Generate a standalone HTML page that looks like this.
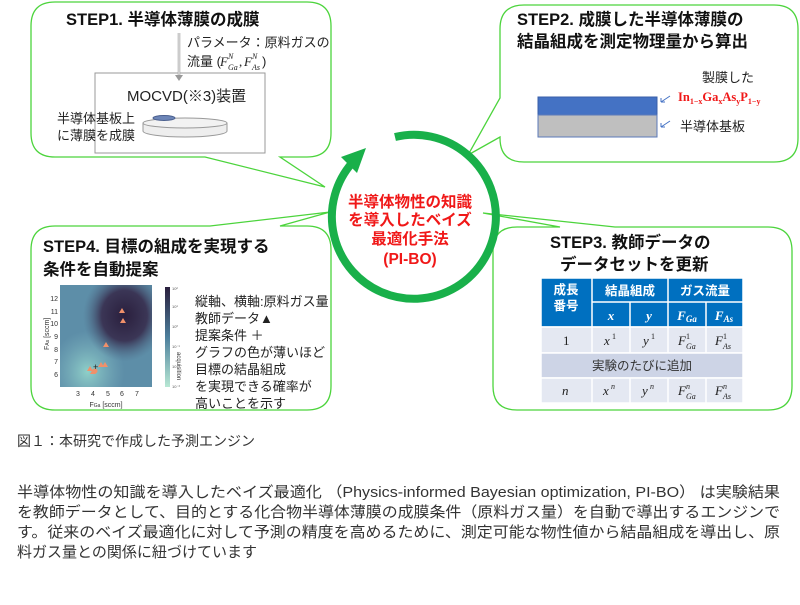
<!DOCTYPE html>
<html><head><meta charset="utf-8"><style>
body{margin:0;background:#fff;width:800px;height:600px;overflow:hidden;font-family:"Liberation Sans","Noto Sans CJK JP",sans-serif}
svg text{font-family:"Liberation Sans","Noto Sans CJK JP",sans-serif}
svg text.m, svg .m text{font-family:"Liberation Serif","Noto Serif CJK SC",serif;font-style:italic}
.t{font-weight:bold;font-size:16.5px;fill:#111}
.s{font-size:13px;fill:#222}
</style></head><body>
<svg width="800" height="600" viewBox="0 0 800 600">
<defs>
<radialGradient id="dk" cx="0.7" cy="0.3" r="0.45"><stop offset="0" stop-color="#2a1f3d"/><stop offset="0.55" stop-color="#3b3656"/><stop offset="1" stop-color="#4d6b88" stop-opacity="0"/></radialGradient>
<radialGradient id="lt" cx="0.3" cy="0.85" r="0.4"><stop offset="0" stop-color="#8fd0c8"/><stop offset="1" stop-color="#7fb5c0" stop-opacity="0"/></radialGradient>
<linearGradient id="cb" x1="0" y1="0" x2="0" y2="1"><stop offset="0" stop-color="#2a1f3d"/><stop offset="0.5" stop-color="#4d7f9c"/><stop offset="1" stop-color="#b8e8d4"/></linearGradient>
</defs>
<g fill="#fff" stroke="#4cd43c" stroke-width="1.3">
<path d="M55 2 H307 Q331 2 331 26 V133 Q331 157 307 157 H280 L325 187 L205 157 H55 Q31 157 31 133 V26 Q31 2 55 2 Z"/>
<path d="M524 5 H774 Q798 5 798 29 V138 Q798 162 774 162 H524 Q500 162 500 138 V137 L468 155 L500 98 V29 Q500 5 524 5 Z"/>
<path d="M55 226 H210 L330 212 L280 226 H307 Q331 226 331 250 V386 Q331 410 307 410 H55 Q31 410 31 386 V250 Q31 226 55 226 Z"/>
<path d="M517 227 H560 L483 213 L615 227 H768 Q792 227 792 251 V386 Q792 410 768 410 H517 Q493 410 493 386 V251 Q493 227 517 227 Z"/>
</g>
<path d="M395 137 A82 82 0 1 1 352 163" fill="none" stroke="#19b04a" stroke-width="8"/>
<polygon points="366,148 341,157 357,173" fill="#19b04a"/>
<g fill="#f01818" font-weight="bold" font-size="15.5" text-anchor="middle">
<text x="410" y="207">半導体物性の知識</text>
<text x="410" y="225">を導入したベイズ</text>
<text x="410" y="244">最適化手法</text>
<text x="410" y="264">(PI-BO)</text>
</g>
<text class="t" x="66" y="25">STEP1. 半導体薄膜の成膜</text>
<rect x="95" y="73" width="170" height="80" fill="#fff" stroke="#999"/>
<line x1="179" y1="33" x2="179" y2="79" stroke="#999" stroke-width="2.5"/>
<line x1="179" y1="33" x2="179" y2="79" stroke="#fff" stroke-width="1"/>
<polygon points="175,75 183,75 179,81" fill="#999"/>
<text class="s" x="187" y="47">パラメータ：原料ガスの</text>
<text class="s" x="187" y="66">流量 (</text>
<g class="m" fill="#222"><text x="220" y="66" font-size="13">F</text><text x="228" y="59" font-size="8">N</text><text x="228" y="70" font-size="8">Ga</text><text x="239" y="66" font-size="13" style="font-style:normal">,</text><text x="244" y="66" font-size="13">F</text><text x="252" y="59" font-size="8">N</text><text x="252" y="70" font-size="8">As</text></g>
<text class="s" x="262" y="66">)</text>
<text x="127" y="101" font-size="15" fill="#222">MOCVD(※3)装置</text>
<path d="M143 123 V131 A42 6 0 0 0 227 131 V123" fill="#eee" stroke="#999"/>
<ellipse cx="185" cy="123" rx="42" ry="5" fill="#f2f2f2" stroke="#999"/>
<ellipse cx="164" cy="118" rx="11" ry="2.5" fill="#6d86b8" stroke="#4a5f8e"/>
<text class="s" x="57" y="123">半導体基板上</text>
<text class="s" x="57" y="140">に薄膜を成膜</text>
<text class="t" x="517" y="25">STEP2. 成膜した半導体薄膜の</text>
<text class="t" x="517" y="47">結晶組成を測定物理量から算出</text>
<rect x="538" y="97" width="119" height="18" fill="#4472c4" stroke="#3a5fa8"/>
<rect x="538" y="115" width="119" height="22" fill="#bfbfbf" stroke="#5b7ab8"/>
<text class="s" x="702" y="82">製膜した</text>
<text x="678" y="101" font-size="12.5" font-weight="bold" fill="#f01818" style="font-family:'Liberation Serif',serif">In<tspan font-size="8" dy="3">1−x</tspan><tspan dy="-3">Ga</tspan><tspan font-size="8" dy="3">x</tspan><tspan dy="-3">As</tspan><tspan font-size="8" dy="3">y</tspan><tspan dy="-3">P</tspan><tspan font-size="8" dy="3">1−y</tspan></text>
<text class="s" x="680" y="131">半導体基板</text>
<g stroke="#4472c4" stroke-width="1" fill="none"><path d="M670 96 L661 102 M661 102 h4 M661 102 v-4"/><path d="M670 121 L661 127 M661 127 h4 M661 127 v-4"/></g>
<text class="t" x="550" y="248">STEP3. 教師データの</text>
<text class="t" x="560" y="270">データセットを更新</text>
<g stroke="#fff" stroke-width="1.5">
<rect x="541" y="278" width="202" height="49" fill="#0070c0"/>
<rect x="541" y="327" width="202" height="26" fill="#e4e8f2"/>
<rect x="541" y="353" width="202" height="25" fill="#cdd4e6"/>
<rect x="541" y="378" width="202" height="25" fill="#e4e8f2"/>
<line x1="592" y1="278" x2="592" y2="353"/><line x1="668" y1="278" x2="668" y2="353"/>
<line x1="630" y1="302" x2="630" y2="353"/><line x1="706" y1="302" x2="706" y2="353"/>
<line x1="592" y1="302" x2="743" y2="302"/>
<line x1="592" y1="378" x2="592" y2="403"/><line x1="630" y1="378" x2="630" y2="403"/><line x1="668" y1="378" x2="668" y2="403"/><line x1="706" y1="378" x2="706" y2="403"/>
</g>
<g fill="#fff" font-weight="bold" font-size="12.5" text-anchor="middle">
<text x="566" y="294">成長</text><text x="566" y="310">番号</text>
<text x="630" y="295">結晶組成</text><text x="705" y="295">ガス流量</text>
</g>
<g class="m" font-size="13" text-anchor="middle" fill="#fff" font-weight="bold">
<text x="611" y="320">x</text><text x="649" y="320">y</text><text x="687" y="320">F<tspan font-size="9" dy="2">Ga</tspan></text><text x="724" y="320">F<tspan font-size="9" dy="2">As</tspan></text>
</g>
<g class="m" font-size="13" fill="#222">
<text x="563" y="345" style="font-style:normal">1</text>
<text x="604" y="345">x</text><text x="612" y="339" font-size="8" style="font-style:normal">1</text>
<text x="643" y="345">y</text><text x="651" y="339" font-size="8" style="font-style:normal">1</text>
<text x="678" y="345">F</text><text x="686" y="339" font-size="8" style="font-style:normal">1</text><text x="686" y="349" font-size="8">Ga</text>
<text x="715" y="345">F</text><text x="723" y="339" font-size="8" style="font-style:normal">1</text><text x="723" y="349" font-size="8">As</text>
<text x="562" y="395">n</text>
<text x="603" y="395">x</text><text x="611" y="389" font-size="8">n</text>
<text x="642" y="395">y</text><text x="650" y="389" font-size="8">n</text>
<text x="678" y="395">F</text><text x="686" y="389" font-size="8">n</text><text x="686" y="399" font-size="8">Ga</text>
<text x="715" y="395">F</text><text x="723" y="389" font-size="8">n</text><text x="723" y="399" font-size="8">As</text>
</g>
<text x="642" y="370" font-size="12.5" fill="#333" text-anchor="middle">実験のたびに追加</text>
<text class="t" x="43" y="252">STEP4. 目標の組成を実現する</text>
<text class="t" x="43" y="275">条件を自動提案</text>
<rect x="60" y="285" width="92" height="102" fill="#5d8ea8"/>
<rect x="60" y="285" width="92" height="102" fill="url(#lt)"/>
<rect x="60" y="285" width="92" height="102" fill="url(#dk)"/>
<rect x="165" y="287" width="5" height="100" fill="url(#cb)"/>
<g fill="#f0906a"><polygon points="122,308 125,313 119,313"/><polygon points="123,318 126,323 120,323"/><polygon points="106,342 109,347 103,347"/><polygon points="101,362 104,367 98,367"/><polygon points="105,362 108,367 102,367"/><polygon points="90,366 93,371 87,371"/><polygon points="93,369 96,374 90,374"/><circle cx="95" cy="371" r="2.5"/></g>
<text x="93" y="370" font-size="9" fill="#222">+</text>
<g font-size="7" fill="#333" text-anchor="end"><text x="58" y="301">12</text><text x="58" y="314">11</text><text x="58" y="326">10</text><text x="58" y="339">9</text><text x="58" y="352">8</text><text x="58" y="364">7</text><text x="58" y="377">6</text></g>
<g font-size="7" fill="#333" text-anchor="middle"><text x="78" y="396">3</text><text x="93" y="396">4</text><text x="108" y="396">5</text><text x="122" y="396">6</text><text x="137" y="396">7</text><text x="106" y="407">F<tspan font-size="5">Ga</tspan> [sccm]</text></g>
<text x="0" y="0" font-size="7" fill="#333" transform="translate(49 350) rotate(-90)">F<tspan font-size="5">As</tspan> [sccm]</text>
<text x="0" y="0" font-size="6" fill="#333" transform="translate(177 352) rotate(90)">acquisition</text>
<g font-size="4" fill="#555"><text x="172" y="290">10²</text><text x="172" y="308">10¹</text><text x="172" y="328">10⁰</text><text x="172" y="348">10⁻¹</text><text x="172" y="368">10⁻²</text><text x="172" y="388">10⁻³</text></g>
<g class="s" font-size="13" fill="#222"><text x="195" y="306">縦軸、横軸:原料ガス量</text><text x="195" y="323">教師データ▲</text><text x="195" y="340">提案条件 ＋</text><text x="195" y="357">グラフの色が薄いほど</text><text x="195" y="374">目標の結晶組成</text><text x="195" y="391">を実現できる確率が</text><text x="195" y="408">高いことを示す</text></g>
<text x="17" y="446" font-size="14" fill="#333">図１：本研究で作成した予測エンジン</text>
<g font-size="15" fill="#333">
<text x="17" y="497" textLength="763" lengthAdjust="spacingAndGlyphs">半導体物性の知識を導入したベイズ最適化 （Physics-informed Bayesian optimization, PI-BO） は実験結果</text>
<text x="17" y="517" textLength="763" lengthAdjust="spacingAndGlyphs">を教師データとして、目的とする化合物半導体薄膜の成膜条件（原料ガス量）を自動で導出するエンジンで</text>
<text x="17" y="537" textLength="763" lengthAdjust="spacingAndGlyphs">す。従来のベイズ最適化に対して予測の精度を高めるために、測定可能な物性値から結晶組成を導出し、原</text>
<text x="17" y="557" textLength="240" lengthAdjust="spacingAndGlyphs">料ガス量との関係に紐づけています</text>
</g>
</svg>
</body></html>
